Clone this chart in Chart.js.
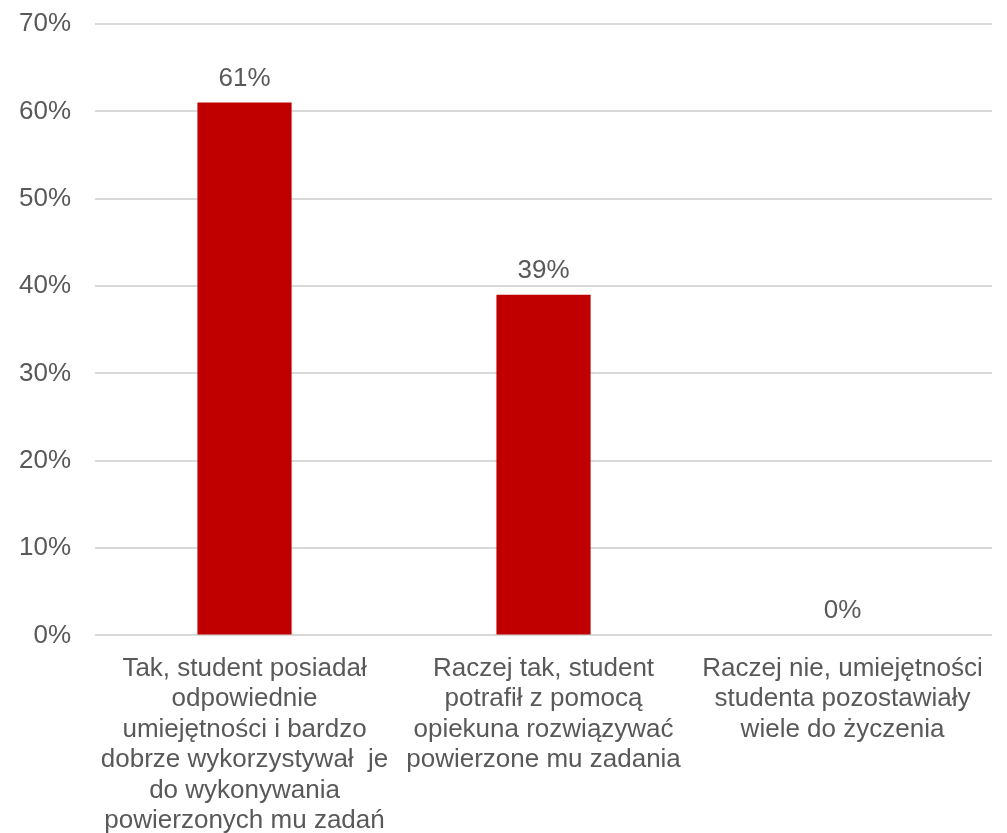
<!DOCTYPE html>
<html>
<head>
<meta charset="utf-8">
<script src="https://cdn.jsdelivr.net/npm/chart.js@4.4.1/dist/chart.umd.min.js"></script>
<style>
  html, body { margin: 0; padding: 0; background: #fff; }
  #wrap { width: 1007px; height: 833px; }
</style>
</head>
<body>
<div id="wrap"><canvas id="chart"></canvas></div>
<script>
// answers (each split into the lines shown under the axis)
var categories = [
    ["Tak, student posiadał", "odpowiednie", "umiejętności i bardzo", "dobrze wykorzystywał  je", "do wykonywania", "powierzonych mu zadań"],
    ["Raczej tak, student", "potrafił z pomocą", "opiekuna rozwiązywać", "powierzone mu zadania"],
    ["Raczej nie, umiejętności", "studenta pozostawiały", "wiele do życzenia"]
];
var percents = [61, 39, 0];
var yTicks = [0, 10, 20, 30, 40, 50, 60, 70];

var textColor = '#595959';
var fontFamily = '"Liberation Sans", Arial, sans-serif';

// value labels above the bars
var valueLabels = {
    id: 'valueLabels',
    afterDatasetsDraw: function(chart) {
        var ctx = chart.ctx;
        var meta = chart.getDatasetMeta(0);
        ctx.save();
        ctx.fillStyle = textColor;
        ctx.font = '26px ' + fontFamily;
        ctx.textAlign = 'center';
        ctx.textBaseline = 'alphabetic';
        meta.data.forEach(function(bar, i) {
            ctx.fillText(percents[i] + '%', bar.x, bar.y - 17);
        });
        ctx.restore();
    }
};

var ctx = document.getElementById('chart');

var myChart = new Chart(ctx, {
    type: 'bar',
    data: {
        labels: categories,
        datasets: [{
            data: percents,
            backgroundColor: '#c00000',
            borderWidth: 0,
            categoryPercentage: 1,
            barPercentage: 0.315
        }]
    },
    options: {
        responsive: true,
        maintainAspectRatio: false,
        animation: false,
        layout: {
            padding: { left: 19, right: 15, top: 24, bottom: -13 }
        },
        plugins: {
            legend: { display: false },
            tooltip: { enabled: false }
        },
        scales: {
            x: {
                grid: { display: false },
                border: { display: false },
                ticks: {
                    color: textColor,
                    font: { family: fontFamily, size: 26, lineHeight: 1.17 },
                    maxRotation: 0,
                    autoSkip: false,
                    padding: 10
                }
            },
            y: {
                min: 0,
                max: 70,
                afterBuildTicks: function(axis) {
                    axis.ticks = yTicks.map(function(v) { return { value: v }; });
                },
                // invisible tick marks give the 24px gap between labels and grid
                grid: { color: '#d9d9d9', lineWidth: 2, tickLength: 24, tickColor: 'rgba(0,0,0,0)' },
                border: { display: false },
                ticks: {
                    color: textColor,
                    font: { family: fontFamily, size: 26 },
                    padding: 0,
                    callback: function(v) { return v + '%'; }
                }
            }
        }
    },
    plugins: [valueLabels]
});
</script>
</body>
</html>
